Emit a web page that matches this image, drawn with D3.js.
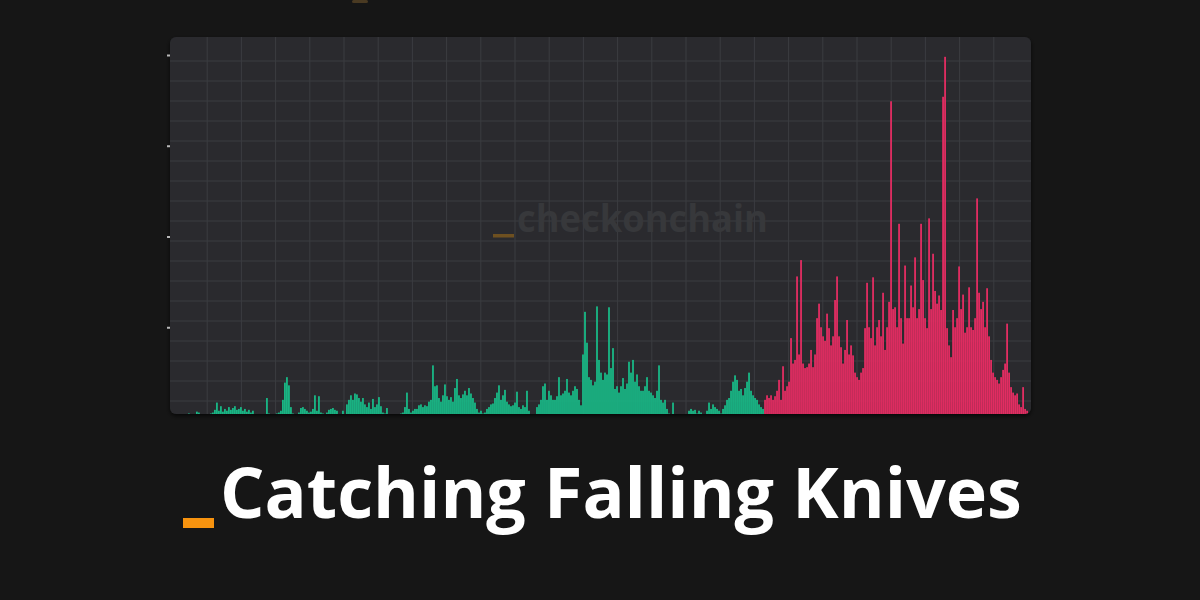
<!DOCTYPE html>
<html>
<head>
<meta charset="utf-8">
<script src="https://cdn.jsdelivr.net/npm/d3@7"></script>
<style>
  html, body { margin: 0; padding: 0; background: #161616; }
  svg { display: block; }
</style>
</head>
<body>
<div id="chart"></div>
<script>
// bar heights, left to right (one bar per period)
// green regime first
var greenValues = [
  0,0,0,0,0,0,0,0,0.05,0,
  0,0.03,0.07,0.06,0,0,0.02,0.03,0.04,0.05,
  0.06,0.09,0.17,0.08,0.13,0.07,0.1,0.08,0.12,0.09,
  0.11,0.13,0.09,0.1,0.12,0.08,0.1,0.07,0.09,0.06,
  0.08,0.03,0.02,0,0.02,0.03,0.04,0.22,0.05,0.03,
  0.02,0.04,0.05,0.06,0.08,0.2,0.39,0.45,0.36,0.12,
  0.05,0.03,0.04,0.06,0.11,0.12,0.1,0.08,0.06,0.07,
  0.1,0.25,0.08,0.24,0.06,0.05,0.04,0.06,0.09,0.1,
  0.11,0.09,0.08,0.03,0.02,0.08,0.04,0.15,0.2,0.25,
  0.2,0.27,0.26,0.22,0.18,0.22,0.15,0.12,0.17,0.1,
  0.21,0.12,0.15,0.23,0.13,0.06,0.05,0.11,0.03,0.02,
  0,0.02,0.04,0.03,0.05,0.06,0.12,0.28,0.1,0.06,
  0.08,0.1,0.1,0.14,0.15,0.12,0.14,0.13,0.18,0.2,
  0.58,0.35,0.36,0.22,0.18,0.25,0.37,0.24,0.2,0.23,
  0.18,0.33,0.43,0.25,0.22,0.26,0.3,0.25,0.33,0.27,
  0.22,0.17,0.1,0.06,0.08,0.05,0.06,0.1,0.12,0.15,
  0.16,0.22,0.28,0.36,0.2,0.25,0.31,0.18,0.15,0.13,
  0.14,0.17,0.29,0.12,0.1,0.14,0.12,0.3,0.08,0.02,
  0,0.02,0.12,0.15,0.2,0.35,0.38,0.2,0.3,0.25,
  0.2,0.2,0.24,0.45,0.25,0.27,0.3,0.43,0.28,0.25,
  0.3,0.35,0.32,0.2,0.14,0.7,1.17,0.83,0.45,0.42,
  0.36,0.4,1.23,0.64,0.5,0.42,0.5,0.48,1.22,0.55,
  0.77,0.32,0.35,0.28,0.35,0.44,0.32,0.38,0.62,0.5,
  0.64,0.4,0.48,0.35,0.3,0.3,0.35,0.45,0.3,0.28,
  0.25,0.22,0.3,0.58,0.2,0.17,0.2,0.1,0.05,0.03,
  0.17,0,0,0,0,0,0.02,0,0.08,0.1,
  0.08,0.09,0.05,0.08,0.06,0.03,0,0.08,0.17,0.1,
  0.15,0.12,0.1,0.08,0.05,0.1,0.14,0.2,0.22,0.3,
  0.4,0.47,0.42,0.3,0.32,0.25,0.33,0.4,0.5,0.3,
  0.25,0.22,0.2,0.15,0.12,0.1
];

// then the red regime
var redValues = [
  0.2,0.25,0.22,0.25,
  0.2,0.24,0.3,0.42,0.2,0.57,0.3,0.35,0.4,0.88,
  0.6,0.64,1.56,0.7,1.74,0.6,0.55,0.56,0.6,0.75,
  0.56,0.7,1.1,1.26,1.0,0.9,0.85,1.15,0.99,0.8,
  0.9,1.3,1.56,0.9,0.78,0.6,0.75,1.08,0.7,0.8,
  0.69,0.5,0.45,0.42,0.5,0.55,0.99,1.49,1.0,0.88,
  1.55,0.8,1.0,1.08,0.9,1.38,0.75,1.0,1.28,3.49,
  1.2,1.22,1.0,2.14,1.1,0.82,1.68,1.1,1.1,1.46,
  1.22,1.77,1.1,1.2,2.14,1.52,1.1,0.99,2.2,1.2,
  1.81,1.4,1.26,1.35,1.19,3.54,3.98,0.99,0.8,0.67,
  1.19,1.0,1.1,1.67,1.2,1.36,0.94,1.0,1.44,1.0,
  0.97,1.1,2.42,1.38,1.2,1.28,1.0,1.43,0.9,0.64,
  0.5,0.45,0.42,0.38,0.45,0.53,0.6,1.04,0.5,0.34,
  0.28,0.25,0.27,0.15,0.12,0.34,0.1,0.08
];

var yTicks = [1, 2, 3, 4];
var titleText = "Catching Falling Knives";
var watermarkText = "checkonchain";

var width = 1200;
var height = 600;

// panel box
var panel = { x: 170, y: 37, w: 861, h: 377, r: 6 };
var plotLeft = 172;
var plotRight = 1028;

// merge the two regimes into one list of bars
var bars = [];
greenValues.forEach(function(v) { bars.push({ v: v, regime: "green" }); });
redValues.forEach(function(v) { bars.push({ v: v, regime: "red" }); });
bars.forEach(function(d, i) { d.i = i; });

var colors = { green: "#19b886", red: "#e22d62" };

var svg = d3
  .select("#chart")
  .append("svg")
  .attr("width", width)
  .attr("height", height);

svg.append("rect")
  .attr("width", width)
  .attr("height", height)
  .attr("fill", "#161616");

// little clipped piece of logo at the very top
svg.append("rect")
  .attr("x", 352)
  .attr("y", 0)
  .attr("width", 16)
  .attr("height", 3)
  .attr("rx", 1.5)
  .attr("fill", "#4a3a22");

var defs = svg.append("defs");

var shadow = defs.append("filter")
  .attr("id", "shadow")
  .attr("x", "-5%").attr("y", "-5%")
  .attr("width", "110%").attr("height", "115%");
shadow.append("feDropShadow")
  .attr("dx", 0).attr("dy", 2)
  .attr("stdDeviation", 2)
  .attr("flood-color", "#000")
  .attr("flood-opacity", 0.7);

defs.append("clipPath")
  .attr("id", "panelClip")
  .append("rect")
  .attr("x", panel.x)
  .attr("y", panel.y)
  .attr("width", panel.w)
  .attr("height", panel.h)
  .attr("rx", panel.r);

svg.append("rect")
  .attr("x", panel.x)
  .attr("y", panel.y)
  .attr("width", panel.w)
  .attr("height", panel.h)
  .attr("rx", panel.r)
  .attr("fill", "#2a2b2e")
  .attr("filter", "url(#shadow)");

var plot = svg.append("g").attr("clip-path", "url(#panelClip)");

// grid
var gridX = d3.scaleLinear().domain([0, 25]).range([173, 1028]);
var gridY = d3.scaleLinear().domain([0, 19]).range([421, 41]);

plot.append("g")
  .selectAll("line")
  .data(d3.range(1, 25))
  .enter()
  .append("line")
  .attr("x1", function(d) { return gridX(d); })
  .attr("x2", function(d) { return gridX(d); })
  .attr("y1", panel.y)
  .attr("y2", panel.y + panel.h)
  .attr("stroke", "#3b3c40")
  .attr("stroke-width", 1);

plot.append("g")
  .selectAll("line")
  .data(d3.range(1, 19))
  .enter()
  .append("line")
  .attr("x1", panel.x)
  .attr("x2", panel.x + panel.w)
  .attr("y1", function(d) { return gridY(d); })
  .attr("y2", function(d) { return gridY(d); })
  .attr("stroke", "#3b3c40")
  .attr("stroke-width", 1);

// watermark
var wm = plot.append("g");
wm.append("rect")
  .attr("x", 493)
  .attr("y", 234)
  .attr("width", 21)
  .attr("height", 3.5)
  .attr("fill", "#6e5020");
var wmText = wm.append("text")
  .attr("x", 517)
  .attr("y", 232)
  .attr("font-family", "'Open Sans', sans-serif")
  .attr("font-weight", 700)
  .attr("font-size", 37)
  .attr("fill", "#37383b")
  .text(watermarkText);
wmText.attr("textLength", 251).attr("lengthAdjust", "spacingAndGlyphs");

// scales
var xScale = d3
  .scaleBand()
  .domain(bars.map(function(d) { return d.i; }))
  .range([plotLeft, plotRight])
  .paddingInner(0.1)
  .paddingOuter(0);

var yScale = d3
  .scaleLinear()
  .domain([0, 4])
  .range([418, 55]);

plot.append("g")
  .selectAll("rect")
  .data(bars)
  .enter()
  .append("rect")
  .attr("x", function(d) { return xScale(d.i); })
  .attr("y", function(d) { return yScale(d.v); })
  .attr("width", xScale.bandwidth())
  .attr("height", function(d) { return yScale(0) - yScale(d.v); })
  .attr("fill", function(d) { return colors[d.regime]; });

// y axis: only the tiny tick stubs show at the panel edge
var yAxis = d3.axisLeft(yScale)
  .tickValues(yTicks)
  .tickSize(3)
  .tickFormat("");

var yAxisG = svg.append("g")
  .attr("transform", "translate(170,0)")
  .call(yAxis);
yAxisG.select(".domain").remove();
yAxisG.selectAll(".tick line")
  .attr("stroke", "#b8b8b8")
  .attr("stroke-width", 2);

// title
var title = svg.append("g");
title.append("rect")
  .attr("x", 183)
  .attr("y", 518)
  .attr("width", 31)
  .attr("height", 10)
  .attr("fill", "#f7930f");

var tText = title.append("text")
  .attr("x", 220)
  .attr("y", 518)
  .attr("font-family", "'Open Sans', sans-serif")
  .attr("font-weight", 700)
  .attr("font-size", 70)
  .attr("fill", "#ffffff")
  .text(titleText);

// fit the title to its width in the picture
var tw = tText.node().getComputedTextLength();
tText.attr("font-size", 70 * 802 / tw);
</script>
</body>
</html>
